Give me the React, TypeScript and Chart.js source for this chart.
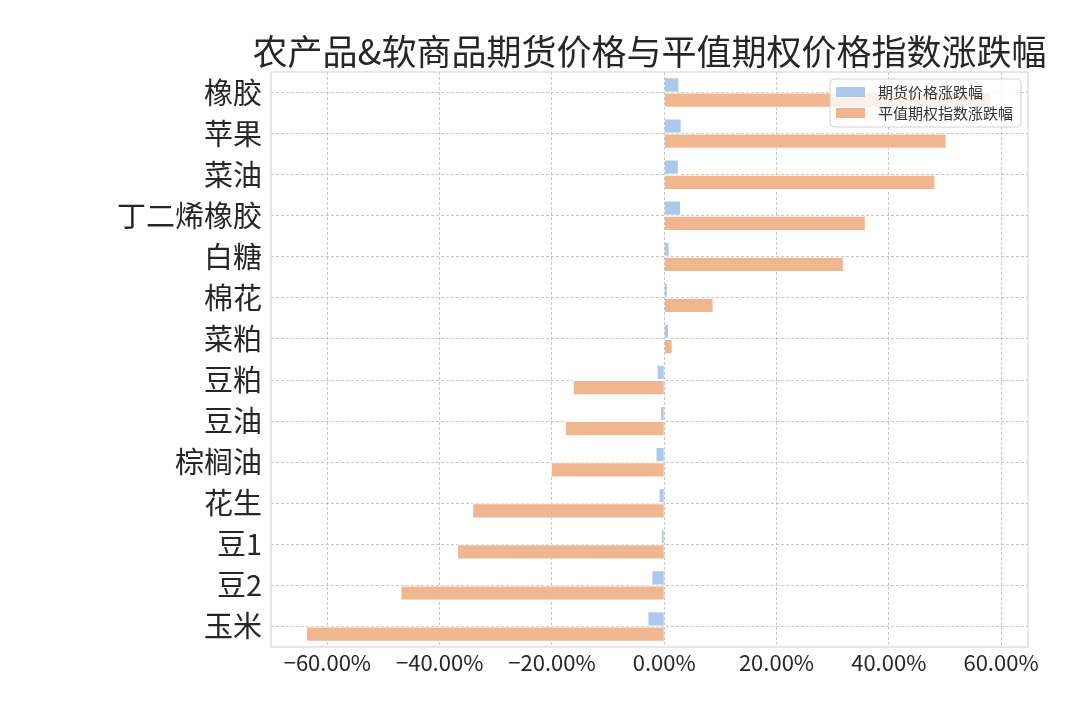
import React, { useEffect, useRef } from "react";
import { Chart, registerables } from "chart.js";

Chart.register(...registerables);

const titleText = "农产品&软商品期货价格与平值期权价格指数涨跌幅";
const categories = ["橡胶", "苹果", "菜油", "丁二烯橡胶", "白糖", "棉花", "菜粕", "豆粕", "豆油", "棕榈油", "花生", "豆1", "豆2", "玉米"];
const seriesNames = ["期货价格涨跌幅", "平值期权指数涨跌幅"];
const futuresChange = [2.7, 3.1, 2.6, 3.0, 0.95, 0.65, 0.85, -1.35, -0.75, -1.55, -1.0, -0.6, -2.3, -3.0];
const optionIndexChange = [58.3, 50.3, 48.3, 35.9, 32.0, 8.8, 1.5, -16.3, -17.7, -20.2, -34.2, -36.9, -47.0, -63.8];
const xTickValues = [-60, -40, -20, 0, 20, 40, 60];

const FONT = "'Noto Sans CJK SC', 'Noto Sans', sans-serif";
const BLUE = "#abc9ec";
const ORANGE = "#f0b690";

const frameLegendTitle = {
  id: "frameLegendTitle",
  beforeDatasetsDraw(chart: any) {
    const { ctx, chartArea } = chart;
    ctx.save();
    ctx.strokeStyle = "#d6d6d6";
    ctx.lineWidth = 1.2;
    ctx.strokeRect(chartArea.left, chartArea.top, chartArea.right - chartArea.left, chartArea.bottom - chartArea.top);
    ctx.restore();
  },
  afterDraw(chart: any) {
    const { ctx, chartArea } = chart;
    ctx.save();
    // title centred over the plot area
    ctx.font = `35px ${FONT}`;
    ctx.fillStyle = "#262626";
    ctx.textAlign = "center";
    ctx.textBaseline = "middle";
    ctx.fillText(titleText, (chartArea.left + chartArea.right) / 2, chartArea.top - 20);

    // legend inside upper right
    const right = chartArea.right - 7;
    const top = chartArea.top + 7;
    const w = 191;
    const h = 48;
    const left = right - w;
    ctx.beginPath();
    if (ctx.roundRect) ctx.roundRect(left, top, w, h, 4);
    else ctx.rect(left, top, w, h);
    ctx.fillStyle = "rgba(255,255,255,0.8)";
    ctx.fill();
    ctx.strokeStyle = "rgba(204,204,204,0.9)";
    ctx.lineWidth = 1;
    ctx.stroke();
    ctx.font = `15px ${FONT}`;
    ctx.textBaseline = "middle";
    ctx.textAlign = "left";
    chart.data.datasets.forEach((ds: any, i: number) => {
      const cy = top + 13 + i * 21;
      ctx.fillStyle = ds.backgroundColor;
      ctx.fillRect(left + 6, cy - 5, 29, 10);
      ctx.fillStyle = "#333333";
      ctx.fillText(ds.label, left + 48, cy);
    });
    ctx.restore();
  },
};

export default function App() {
  const ref = useRef<HTMLCanvasElement | null>(null);
  useEffect(() => {
    if (!ref.current) return;
    const chart = new Chart(ref.current, {
      type: "bar",
      data: {
        labels: categories,
        datasets: [
          {
            label: seriesNames[0],
            data: futuresChange,
            backgroundColor: BLUE,
            borderColor: "#ffffff",
            borderWidth: 1,
            categoryPercentage: 0.74,
            barPercentage: 1.0,
          },
          {
            label: seriesNames[1],
            data: optionIndexChange,
            backgroundColor: ORANGE,
            borderColor: "#ffffff",
            borderWidth: 1,
            categoryPercentage: 0.74,
            barPercentage: 1.0,
          },
        ],
      },
      options: {
        indexAxis: "y",
        animation: false,
        responsive: false,
        maintainAspectRatio: false,
        layout: { padding: { left: 0, right: 52, top: 72, bottom: 0 } },
        plugins: {
          legend: { display: false },
          tooltip: { enabled: false },
          title: { display: false },
        },
        scales: {
          x: {
            type: "linear",
            min: -70.05,
            max: 64.8,
            afterBuildTicks: (scale: any) => {
              scale.ticks = xTickValues.map((v) => ({ value: v }));
            },
            afterFit: (scale: any) => {
              scale.height = 73;
            },
            ticks: {
              includeBounds: false,
              color: "#262626",
              padding: 2,
              font: { family: FONT, size: 22 },
              callback: (v: any) => (Number(v) < 0 ? "\u2212" : "") + Math.abs(Number(v)).toFixed(2) + "%",
            },
            grid: {
              color: "#b8b8b8",
              lineWidth: 0.8,
              drawTicks: false,
            },
            border: { display: false, dash: [3, 2] },
          },
          y: {
            type: "category",
            offset: true,
            afterFit: (scale: any) => {
              scale.width = 271;
            },
            ticks: {
              color: "#262626",
              padding: 9,
              font: { family: FONT, size: 29 },
            },
            grid: {
              offset: false,
              color: "#b8b8b8",
              lineWidth: 0.8,
              drawTicks: false,
            },
            border: { display: false, dash: [3, 2] },
          },
        },
      },
      plugins: [frameLegendTitle],
    } as any);
    return () => chart.destroy();
  }, []);
  return (
    <div style={{ position: "absolute", left: 0, top: 0, width: 1080, height: 720, background: "#ffffff" }}>
      <canvas ref={ref} width={1080} height={720} style={{ display: "block" }} />
    </div>
  );
}
